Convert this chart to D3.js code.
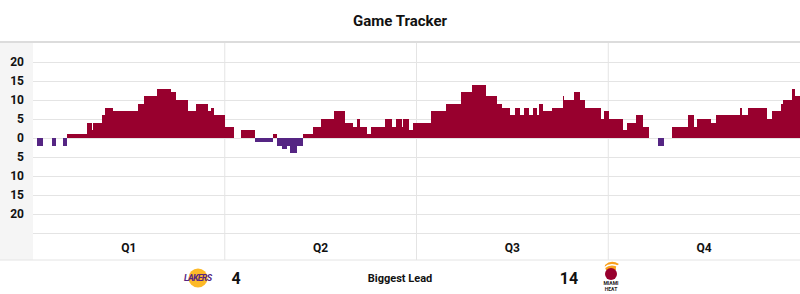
<!DOCTYPE html>
<html>
<head>
<meta charset="utf-8">
<script src="https://cdn.jsdelivr.net/npm/d3@7"></script>
<style>
  body { margin: 0; background: #fff; }
  text { font-family: Roboto, "Liberation Sans", sans-serif; }
</style>
</head>
<body>
<div id="chart"></div>
<script>
// Lead changes: start minute of each segment and the lead (+ Heat, - Lakers, 0 = tied)
const segStart = [0.23, 0.61, 1.21, 1.42, 1.90, 2.11, 3.36, 3.67, 3.77, 4.34, 4.51, 5.03, 6.59, 6.97, 7.78,
  8.64, 8.95, 9.72, 10.20, 10.97, 11.14, 11.31, 12.02, 12.60, 13.02, 13.89, 15.04, 15.25, 15.56, 15.88,
  16.08, 16.50, 16.88, 17.50, 18.00, 18.86, 19.53, 20.01, 20.26, 20.46, 20.92, 21.13, 22.03, 22.45, 22.72,
  23.07, 23.17, 23.55, 23.76, 24.91, 25.83, 26.77, 27.49, 28.35, 29.02, 29.33, 29.85, 30.16, 30.46, 30.75,
  31.04, 31.29, 31.52, 31.69, 31.90, 32.45, 33.15, 33.23, 33.86, 34.23, 34.55, 35.53, 35.73, 36.05, 36.94,
  37.19, 37.74, 38.15, 38.55, 39.13, 39.51, 40.01, 41.01, 41.37, 41.53, 42.41, 42.72, 44.25, 44.39, 44.73,
  45.92, 46.27, 46.79, 46.96, 47.48, 47.69];
const segLead = [-2, 0, -2, 0, -2, 1, 4, 2, 4, 6, 8, 7, 9, 11, 13,
  12, 10, 7, 9, 7, 8, 6, 3, 0, 2, -1, 1, -2, -3, -2,
  -4, -2, 1, 3, 5, 7, 4, 3, 5, 3, 1, 3, 5, 3, 5,
  3, 5, 2, 4, 7, 9, 12, 14, 11, 9, 8, 6, 8, 6, 8,
  6, 8, 6, 9, 7, 8, 11, 10, 12, 10, 8, 5, 7, 5, 2,
  4, 6, 3, 0, -2, 0, 3, 6, 3, 5, 4, 6, 8, 6, 8,
  5, 7, 9, 10, 13, 11];
const gameEnd = 48;

const quarters = ['Q1', 'Q2', 'Q3', 'Q4'];
const yTicks = [20, 15, 10, 5, 0, -5, -10, -15, -20];
const gridTicks = [20, 15, 10, 5, 0, -5, -10, -15, -20, -25];

const biggestLakers = 4;
const biggestHeat = 14;

const heatRed = '#98002E';
const lakersPurple = '#552583';

const width = 800;
const height = 294;
const plot = { left: 33, right: 800, top: 43, bottom: 233, footer: 260 };

const svg = d3.select('#chart').append('svg')
  .attr('width', width)
  .attr('height', height);

// title
svg.append('text')
  .attr('x', width / 2)
  .attr('y', 26)
  .attr('text-anchor', 'middle')
  .style('font-size', '15px')
  .style('font-weight', 'bold')
  .attr('fill', '#111')
  .text('Game Tracker');

// left axis panel
svg.append('rect')
  .attr('x', 0).attr('y', plot.top)
  .attr('width', plot.left).attr('height', plot.footer - plot.top)
  .attr('fill', '#f5f5f5');

const x = d3.scaleLinear().domain([0, gameEnd]).range([plot.left, plot.right]);
const y = d3.scaleLinear().domain([-25, 25]).range([plot.bottom, plot.top]);
const xq = d3.scaleBand().domain(quarters).range([plot.left, plot.right]);

// horizontal grid
svg.append('g')
  .attr('transform', `translate(${plot.left},0)`)
  .call(d3.axisLeft(y).tickValues(gridTicks).tickSize(-(plot.right - plot.left)).tickFormat(''))
  .call(g => g.select('.domain').remove())
  .call(g => g.selectAll('line').attr('stroke', '#e4e4e4'));

// quarter separators
svg.append('g')
  .selectAll('line')
  .data(quarters.slice(1))
  .enter().append('line')
  .attr('x1', d => xq(d)).attr('x2', d => xq(d))
  .attr('y1', plot.top).attr('y2', plot.footer)
  .attr('stroke', '#e4e4e4');

// lead bars
const segs = segStart.map((s, i) => ({
  t0: s,
  t1: i < segStart.length - 1 ? segStart[i + 1] : gameEnd,
  lead: segLead[i]
})).filter(d => d.lead !== 0);

svg.append('g')
  .attr('shape-rendering', 'crispEdges')
  .selectAll('rect')
  .data(segs)
  .enter().append('rect')
  .attr('x', d => Math.round(x(d.t0)))
  .attr('width', d => Math.round(x(d.t1)) - Math.round(x(d.t0)))
  .attr('y', d => d.lead > 0 ? y(d.lead) : y(0))
  .attr('height', d => Math.abs(y(d.lead) - y(0)))
  .attr('fill', d => d.lead > 0 ? heatRed : lakersPurple);

// y axis labels
svg.append('g')
  .attr('transform', `translate(${plot.left},0)`)
  .call(d3.axisLeft(y).tickValues(yTicks).tickSize(0).tickPadding(9).tickFormat(d => Math.abs(d)))
  .call(g => g.select('.domain').remove())
  .call(g => g.selectAll('text')
    .style('font-size', '12px').style('font-weight', 'bold').attr('fill', '#111'));

// quarter labels
svg.append('g')
  .attr('transform', `translate(0,${plot.bottom})`)
  .call(d3.axisBottom(xq).tickSize(0).tickPadding(10))
  .call(g => g.select('.domain').remove())
  .call(g => g.selectAll('text')
    .style('font-size', '12px').style('font-weight', 'bold').attr('fill', '#111'));

// borders
svg.append('line')
  .attr('x1', 0).attr('x2', width)
  .attr('y1', plot.top - 1).attr('y2', plot.top - 1)
  .attr('stroke', '#dcdcdc').attr('stroke-width', 2);
svg.append('line')
  .attr('x1', 0).attr('x2', width)
  .attr('y1', plot.footer).attr('y2', plot.footer)
  .attr('stroke', '#e4e4e4');

// footer: biggest lead
const foot = svg.append('g');
foot.append('text')
  .attr('x', 400).attr('y', 282)
  .attr('text-anchor', 'middle')
  .style('font-size', '11px').style('font-weight', 'bold')
  .attr('fill', '#111')
  .text('Biggest Lead');
foot.append('text')
  .attr('x', 236).attr('y', 284)
  .attr('text-anchor', 'middle')
  .style('font-size', '16px').style('font-weight', 'bold')
  .attr('fill', '#111')
  .text(biggestLakers);
foot.append('text')
  .attr('x', 569).attr('y', 284)
  .attr('text-anchor', 'middle')
  .style('font-size', '16px').style('font-weight', 'bold')
  .attr('fill', '#111')
  .text(biggestHeat);

// lakers logo (rough)
const lak = foot.append('g').attr('transform', 'translate(198,278)');
lak.append('circle').attr('r', 9.5).attr('fill', '#FDB927');
lak.append('text')
  .attr('text-anchor', 'middle').attr('y', 3)
  .style('font-size', '9px').style('font-weight', 'bold').style('font-style', 'italic')
  .attr('fill', lakersPurple)
  .attr('textLength', 28)
  .text('LAKERS');

// heat logo (rough)
const heat = foot.append('g').attr('transform', 'translate(611,273)');
heat.append('path')
  .attr('d', 'M-6,-8 Q0,-14 8,-9 Q4,-7 5,-3 L-5,-3 Q-7,-6 -6,-8 Z')
  .attr('fill', '#F9A01B');
heat.append('circle').attr('cy', 1).attr('r', 6).attr('fill', heatRed);
heat.append('path')
  .attr('d', 'M-7,-5 Q0,-11 8,-6')
  .attr('fill', 'none').attr('stroke', '#fff').attr('stroke-width', 1.5);
heat.append('text')
  .attr('text-anchor', 'middle').attr('y', 12)
  .style('font-size', '5px').style('font-weight', 'bold')
  .attr('fill', '#222')
  .text('MIAMI');
heat.append('text')
  .attr('text-anchor', 'middle').attr('y', 18)
  .style('font-size', '5px').style('font-weight', 'bold')
  .attr('fill', '#222')
  .text('HEAT');
</script>
</body>
</html>
